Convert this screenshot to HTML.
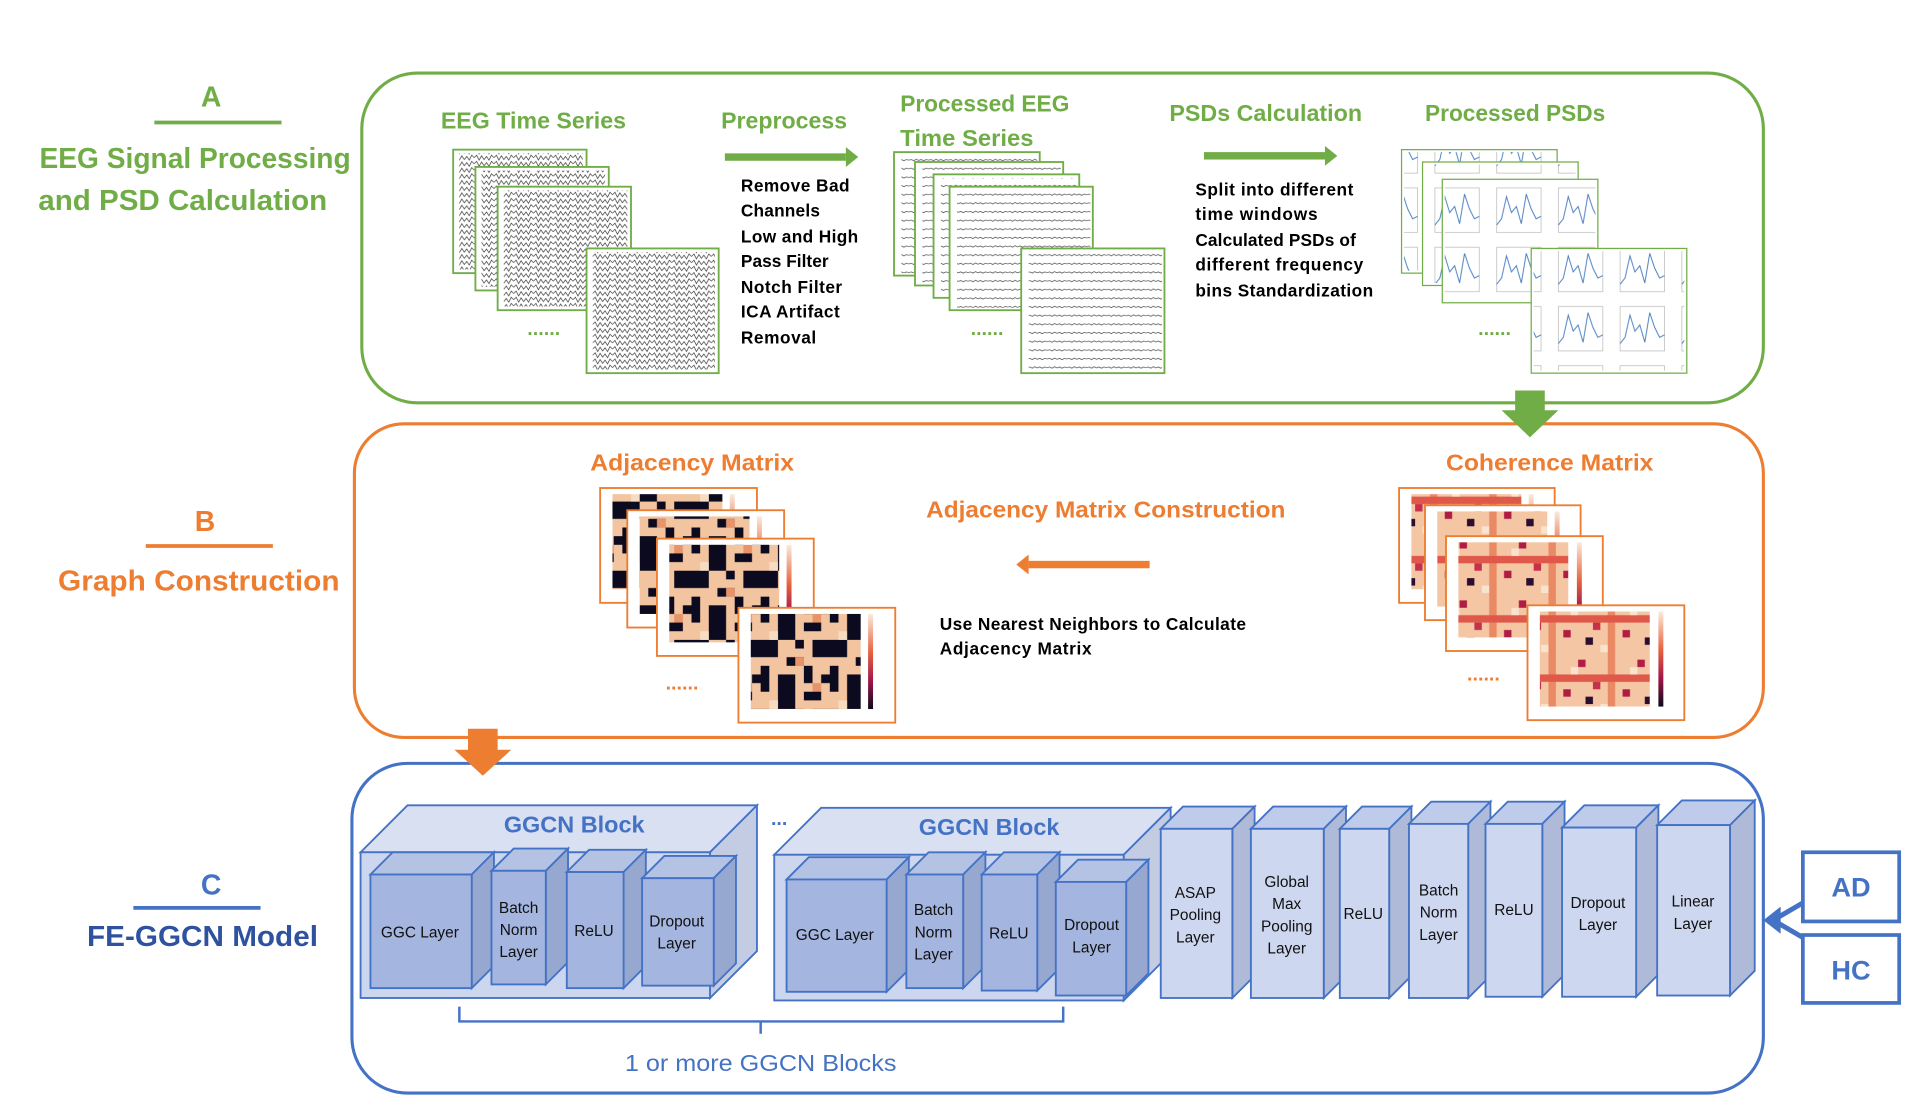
<!DOCTYPE html>
<html><head><meta charset="utf-8"><style>
html,body{margin:0;padding:0;background:#fff;}
svg{display:block;}
text{font-family:"Liberation Sans",sans-serif;}
</style></head><body>
<svg width="1914" height="1118" viewBox="0 0 1550 905" xmlns="http://www.w3.org/2000/svg">
<defs>
<pattern id="eeg" patternUnits="userSpaceOnUse" width="16" height="5">
<path d="M0,2.5 L2,0.5 L4,4.5 L6,1 L8,4 L10,1.5 L12,4.5 L14,0.5 L16,2.5" fill="none" stroke="#444" stroke-width="0.6"/>
</pattern>
<pattern id="peeg" patternUnits="userSpaceOnUse" width="16" height="7">
<path d="M0,3.5 L2,3 L4,4 L6,2.8 L8,3.8 L10,3 L12,4 L14,3 L16,3.5" fill="none" stroke="#555" stroke-width="0.6"/>
</pattern>
<pattern id="psd" patternUnits="userSpaceOnUse" width="50" height="48" x="4" y="3">
<rect x="8" y="5" width="36" height="36" fill="none" stroke="#bbb" stroke-width="0.6"/>
<path d="M8,35 L12,30 L16,12 L20,25 L24,20 L28,34 L32,10 L36,22 L40,30 L44,28" fill="none" stroke="#4a7fc0" stroke-width="0.8"/>
</pattern>
<pattern id="adj" patternUnits="userSpaceOnUse" width="56" height="56">
<rect width="56" height="56" fill="#f3c4a0"/>
<rect x="14" y="0" width="14" height="14" fill="#0b0a1e"/><rect x="35" y="0" width="14" height="7" fill="#0b0a1e"/>
<rect x="0" y="14" width="14" height="14" fill="#0b0a1e"/><rect x="28" y="14" width="7" height="7" fill="#0b0a1e"/>
<rect x="42" y="14" width="14" height="14" fill="#0b0a1e"/><rect x="21" y="28" width="14" height="7" fill="#0b0a1e"/>
<rect x="0" y="35" width="7" height="21" fill="#0b0a1e"/><rect x="35" y="35" width="7" height="14" fill="#0b0a1e"/>
<rect x="14" y="42" width="14" height="14" fill="#0b0a1e"/><rect x="49" y="42" width="7" height="7" fill="#0b0a1e"/>
<rect x="7" y="7" width="7" height="7" fill="#f7dcc4"/><rect x="28" y="28" width="7" height="7" fill="#e8946a"/>
<rect x="42" y="49" width="7" height="7" fill="#e8946a"/>
</pattern>
<pattern id="coh" patternUnits="userSpaceOnUse" width="48" height="48">
<rect width="48" height="48" fill="#f4c6a4"/>
<rect x="6" y="0" width="6" height="48" fill="#ea8a64"/><rect x="0" y="18" width="48" height="6" fill="#e0584a"/>
<rect x="30" y="6" width="6" height="6" fill="#b01d44"/><rect x="18" y="30" width="6" height="6" fill="#b01d44"/>
<rect x="36" y="36" width="6" height="6" fill="#2a0d2f"/><rect x="24" y="12" width="6" height="6" fill="#f8e3cf"/>
<rect x="42" y="24" width="6" height="6" fill="#c7304a"/><rect x="0" y="42" width="6" height="6" fill="#f8e3cf"/>
</pattern>
<linearGradient id="cb" x1="0" y1="0" x2="0" y2="1"><stop offset="0" stop-color="#faebdd"/><stop offset="0.4" stop-color="#e8643f"/><stop offset="0.7" stop-color="#a3174a"/><stop offset="1" stop-color="#0b0a1e"/></linearGradient>
</defs>
<rect width="1550" height="905" fill="#fff"/>
<rect x="293" y="59" width="1135" height="267" rx="45" fill="none" stroke="#70AD47" stroke-width="2.5"/>
<rect x="287" y="343" width="1141" height="254" rx="40" fill="none" stroke="#ED7D31" stroke-width="2.5"/>
<rect x="285" y="618" width="1143" height="267" rx="45" fill="none" stroke="#4472C4" stroke-width="2.5"/>

<g font-weight="bold" text-anchor="middle">
<text x="171" y="86" font-size="23" fill="#70AD47">A</text>
<line x1="125" y1="99" x2="228" y2="99" stroke="#70AD47" stroke-width="3"/>
<text x="158" y="136" font-size="23" fill="#70AD47" textLength="252" lengthAdjust="spacingAndGlyphs">EEG Signal Processing</text>
<text x="148" y="170" font-size="23" fill="#70AD47" textLength="234" lengthAdjust="spacingAndGlyphs">and PSD Calculation</text>
<text x="166" y="430" font-size="23" fill="#ED7D31">B</text>
<line x1="118" y1="442" x2="221" y2="442" stroke="#ED7D31" stroke-width="3"/>
<text x="161" y="478" font-size="23" fill="#ED7D31" textLength="228" lengthAdjust="spacingAndGlyphs">Graph Construction</text>
<text x="171" y="724" font-size="23" fill="#4472C4">C</text>
<line x1="108" y1="735" x2="211" y2="735" stroke="#4472C4" stroke-width="3"/>
<text x="164" y="766" font-size="23" fill="#2F52A0" textLength="187" lengthAdjust="spacingAndGlyphs">FE-GGCN Model</text>
</g>

<g font-weight="bold" font-size="19" fill="#70AD47">
<text x="357" y="104" textLength="150" lengthAdjust="spacingAndGlyphs">EEG Time Series</text>
<text x="584" y="104" textLength="102" lengthAdjust="spacingAndGlyphs">Preprocess</text>
<text x="729" y="90" textLength="137" lengthAdjust="spacingAndGlyphs">Processed EEG</text>
<text x="729" y="118" textLength="108" lengthAdjust="spacingAndGlyphs">Time Series</text>
<text x="947" y="98" textLength="156" lengthAdjust="spacingAndGlyphs">PSDs Calculation</text>
<text x="1154" y="98" textLength="146" lengthAdjust="spacingAndGlyphs">Processed PSDs</text>
</g>
<g fill="#70AD47">
<rect x="587" y="124" width="98" height="6"/><polygon points="685,119 695,127 685,135"/>
<rect x="975" y="123" width="98" height="6"/><polygon points="1073,118 1083,126 1073,134"/>
</g>
<g font-weight="bold" font-size="14" fill="#000" lengthAdjust="spacingAndGlyphs">
<text x="600" y="155" textLength="88">Remove Bad</text>
<text x="600" y="175" textLength="64">Channels</text>
<text x="600" y="196" textLength="95">Low and High</text>
<text x="600" y="216" textLength="71">Pass Filter</text>
<text x="600" y="237" textLength="82">Notch Filter</text>
<text x="600" y="257" textLength="80">ICA Artifact</text>
<text x="600" y="278" textLength="61">Removal</text>
<text x="968" y="158" textLength="128">Split into different</text>
<text x="968" y="178" textLength="99">time windows</text>
<text x="968" y="199" textLength="130">Calculated PSDs of</text>
<text x="968" y="219" textLength="136">different frequency</text>
<text x="968" y="240" textLength="144">bins Standardization</text>
</g>

<!-- EEG stacks -->
<g stroke="#70AD47" stroke-width="1.5">
<rect x="367" y="121" width="108" height="100" fill="#fff"/><rect x="372" y="124" width="100" height="94" fill="url(#eeg)" stroke="none"/>
<rect x="385" y="135" width="108" height="100" fill="#fff"/><rect x="390" y="138" width="100" height="94" fill="url(#eeg)" stroke="none"/>
<rect x="403" y="151" width="108" height="100" fill="#fff"/><rect x="408" y="154" width="100" height="94" fill="url(#eeg)" stroke="none"/>
<rect x="475" y="201" width="107" height="101" fill="#fff"/><rect x="480" y="204" width="99" height="95" fill="url(#eeg)" stroke="none"/>
<rect x="724" y="123" width="118" height="100" fill="#fff"/><rect x="730" y="126" width="110" height="95" fill="url(#peeg)" stroke="none"/>
<rect x="741" y="131" width="120" height="100" fill="#fff"/><rect x="747" y="134" width="112" height="95" fill="url(#peeg)" stroke="none"/>
<rect x="756" y="141" width="118" height="100" fill="#fff"/><rect x="762" y="144" width="110" height="95" fill="url(#peeg)" stroke="none"/>
<rect x="769" y="151" width="116" height="100" fill="#fff"/><rect x="775" y="154" width="108" height="95" fill="url(#peeg)" stroke="none"/>
<rect x="827" y="201" width="116" height="101" fill="#fff"/><rect x="833" y="204" width="108" height="96" fill="url(#peeg)" stroke="none"/>
<rect x="1135" y="121" width="126" height="100" fill="#fff" stroke-width="1"/><rect x="1137" y="123" width="122" height="96" fill="url(#psd)" stroke="none"/>
<rect x="1152" y="131" width="126" height="100" fill="#fff" stroke-width="1"/><rect x="1154" y="133" width="122" height="96" fill="url(#psd)" stroke="none"/>
<rect x="1168" y="145" width="126" height="100" fill="#fff" stroke-width="1"/><rect x="1170" y="147" width="122" height="96" fill="url(#psd)" stroke="none"/>
<rect x="1240" y="201" width="126" height="101" fill="#fff" stroke-width="1"/><rect x="1242" y="203" width="122" height="97" fill="url(#psd)" stroke="none"/>
</g>
<g font-weight="bold" font-size="16" fill="#70AD47">
<text x="427" y="271">......</text><text x="786" y="271">......</text><text x="1197" y="271">......</text>
</g>
<polygon points="1227,316 1251,316 1251,332 1262,332 1239,354 1216,332 1227,332" fill="#70AD47"/>
<polygon points="379,590 403,590 403,607 414,607 391,628 368,607 379,607" fill="#ED7D31"/>

<g font-weight="bold" font-size="19" fill="#ED7D31">
<text x="478" y="381" textLength="165" lengthAdjust="spacingAndGlyphs">Adjacency Matrix</text>
<text x="1171" y="381" textLength="168" lengthAdjust="spacingAndGlyphs">Coherence Matrix</text>
<text x="750" y="419" textLength="291" lengthAdjust="spacingAndGlyphs">Adjacency Matrix Construction</text>
</g>
<rect x="833" y="454" width="98" height="6" fill="#ED7D31"/><polygon points="833,449 823,457 833,465" fill="#ED7D31"/>
<g font-weight="bold" font-size="14" fill="#000" lengthAdjust="spacingAndGlyphs">
<text x="761" y="510" textLength="248">Use Nearest Neighbors to Calculate</text>
<text x="761" y="530" textLength="123">Adjacency Matrix</text>
</g>

<!-- matrices -->
<g stroke="#ED7D31" stroke-width="1.5">
<rect x="486" y="395" width="127" height="93" fill="#fff"/><rect x="496" y="400" width="89" height="77" fill="url(#adj)" stroke="none"/><rect x="591" y="400" width="4" height="77" fill="url(#cb)" stroke="none"/>
<rect x="508" y="413" width="127" height="95" fill="#fff"/><rect x="518" y="418" width="89" height="79" fill="url(#adj)" stroke="none"/><rect x="613" y="418" width="4" height="79" fill="url(#cb)" stroke="none"/>
<rect x="532" y="436" width="127" height="95" fill="#fff"/><rect x="542" y="441" width="89" height="79" fill="url(#adj)" stroke="none"/><rect x="637" y="441" width="4" height="79" fill="url(#cb)" stroke="none"/>
<rect x="598" y="492" width="127" height="93" fill="#fff"/><rect x="608" y="497" width="89" height="77" fill="url(#adj)" stroke="none"/><rect x="703" y="497" width="4" height="77" fill="url(#cb)" stroke="none"/>
<rect x="1133" y="395" width="126" height="93" fill="#fff"/><rect x="1143" y="400" width="89" height="77" fill="url(#coh)" stroke="none"/><rect x="1238" y="400" width="4" height="77" fill="url(#cb)" stroke="none"/>
<rect x="1154" y="409" width="126" height="93" fill="#fff"/><rect x="1164" y="414" width="89" height="77" fill="url(#coh)" stroke="none"/><rect x="1259" y="414" width="4" height="77" fill="url(#cb)" stroke="none"/>
<rect x="1171" y="434" width="127" height="93" fill="#fff"/><rect x="1181" y="439" width="89" height="77" fill="url(#coh)" stroke="none"/><rect x="1277" y="439" width="4" height="77" fill="url(#cb)" stroke="none"/>
<rect x="1237" y="490" width="127" height="93" fill="#fff"/><rect x="1247" y="495" width="89" height="77" fill="url(#coh)" stroke="none"/><rect x="1343" y="495" width="4" height="77" fill="url(#cb)" stroke="none"/>
</g>
<g font-weight="bold" font-size="16" fill="#ED7D31">
<text x="539" y="558">......</text><text x="1188" y="551">......</text>
</g>

<!-- C boxes -->
<g stroke="#4472C4" stroke-width="1.5">
<polygon points="292,690 330,652 613,652 575,690" fill="#D9E0F2"/><polygon points="575,690 613,652 613,770 575,808" fill="#C3CCE2"/><rect x="292" y="690" width="283" height="118" fill="#CCD6EE"/>
<polygon points="300,708 318,690 400,690 382,708" fill="#B4C2E4"/><polygon points="382,708 400,690 400,782 382,800" fill="#97A8D0"/><rect x="300" y="708" width="82" height="92" fill="#A4B5DF"/>
<polygon points="398,705 416,687 460,687 442,705" fill="#B4C2E4"/><polygon points="442,705 460,687 460,779 442,797" fill="#97A8D0"/><rect x="398" y="705" width="44" height="92" fill="#A4B5DF"/>
<polygon points="459,706 477,688 523,688 505,706" fill="#B4C2E4"/><polygon points="505,706 523,688 523,782 505,800" fill="#97A8D0"/><rect x="459" y="706" width="46" height="94" fill="#A4B5DF"/>
<polygon points="520,711 538,693 596,693 578,711" fill="#B4C2E4"/><polygon points="578,711 596,693 596,780 578,798" fill="#97A8D0"/><rect x="520" y="711" width="58" height="87" fill="#A4B5DF"/>
<polygon points="627,692 665,654 948,654 910,692" fill="#D9E0F2"/><polygon points="910,692 948,654 948,772 910,810" fill="#C3CCE2"/><rect x="627" y="692" width="283" height="118" fill="#CCD6EE"/>
<polygon points="637,712 655,694 736,694 718,712" fill="#B4C2E4"/><polygon points="718,712 736,694 736,785 718,803" fill="#97A8D0"/><rect x="637" y="712" width="81" height="91" fill="#A4B5DF"/>
<polygon points="734,708 752,690 798,690 780,708" fill="#B4C2E4"/><polygon points="780,708 798,690 798,782 780,800" fill="#97A8D0"/><rect x="734" y="708" width="46" height="92" fill="#A4B5DF"/>
<polygon points="795,708 813,690 858,690 840,708" fill="#B4C2E4"/><polygon points="840,708 858,690 858,784 840,802" fill="#97A8D0"/><rect x="795" y="708" width="45" height="94" fill="#A4B5DF"/>
<polygon points="855,714 873,696 930,696 912,714" fill="#B4C2E4"/><polygon points="912,714 930,696 930,788 912,806" fill="#97A8D0"/><rect x="855" y="714" width="57" height="92" fill="#A4B5DF"/>
<polygon points="940,671 958,653 1016,653 998,671" fill="#BFCBEA"/><polygon points="998,671 1016,653 1016,790 998,808" fill="#AEBAD8"/><rect x="940" y="671" width="58" height="137" fill="#CDD7EF"/>
<polygon points="1013,671 1031,653 1090,653 1072,671" fill="#BFCBEA"/><polygon points="1072,671 1090,653 1090,790 1072,808" fill="#AEBAD8"/><rect x="1013" y="671" width="59" height="137" fill="#CDD7EF"/>
<polygon points="1085,671 1103,653 1143,653 1125,671" fill="#BFCBEA"/><polygon points="1125,671 1143,653 1143,790 1125,808" fill="#AEBAD8"/><rect x="1085" y="671" width="40" height="137" fill="#CDD7EF"/>
<polygon points="1141,667 1159,649 1207,649 1189,667" fill="#BFCBEA"/><polygon points="1189,667 1207,649 1207,790 1189,808" fill="#AEBAD8"/><rect x="1141" y="667" width="48" height="141" fill="#CDD7EF"/>
<polygon points="1203,667 1221,649 1267,649 1249,667" fill="#BFCBEA"/><polygon points="1249,667 1267,649 1267,789 1249,807" fill="#AEBAD8"/><rect x="1203" y="667" width="46" height="140" fill="#CDD7EF"/>
<polygon points="1265,670 1283,652 1343,652 1325,670" fill="#BFCBEA"/><polygon points="1325,670 1343,652 1343,789 1325,807" fill="#AEBAD8"/><rect x="1265" y="670" width="60" height="137" fill="#CDD7EF"/>
<polygon points="1342,668 1362,648 1421,648 1401,668" fill="#BFCBEA"/><polygon points="1401,668 1421,648 1421,786 1401,806" fill="#AEBAD8"/><rect x="1342" y="668" width="59" height="138" fill="#CDD7EF"/>
</g>
<g font-weight="bold" font-size="19" fill="#4472C4" text-anchor="middle">
<text x="465" y="674">GGCN  Block</text>
<text x="801" y="676">GGCN  Block</text>
<text x="631" y="668" font-size="16">...</text>
</g>
<g font-size="12.5" fill="#111" text-anchor="middle">
<text x="340" y="759">GGC Layer</text>
<text x="420" y="739">Batch</text><text x="420" y="757">Norm</text><text x="420" y="775">Layer</text>
<text x="481" y="758">ReLU</text>
<text x="548" y="750">Dropout</text><text x="548" y="768">Layer</text>
<text x="676" y="761">GGC Layer</text>
<text x="756" y="741">Batch</text><text x="756" y="759">Norm</text><text x="756" y="777">Layer</text>
<text x="817" y="760">ReLU</text>
<text x="884" y="753">Dropout</text><text x="884" y="771">Layer</text>
<text x="968" y="727">ASAP</text><text x="968" y="745">Pooling</text><text x="968" y="763">Layer</text>
<text x="1042" y="718">Global</text><text x="1042" y="736">Max</text><text x="1042" y="754">Pooling</text><text x="1042" y="772">Layer</text>
<text x="1104" y="744">ReLU</text>
<text x="1165" y="725">Batch</text><text x="1165" y="743">Norm</text><text x="1165" y="761">Layer</text>
<text x="1226" y="741">ReLU</text>
<text x="1294" y="735">Dropout</text><text x="1294" y="753">Layer</text>
<text x="1371" y="734">Linear</text><text x="1371" y="752">Layer</text>
</g>
<path d="M372,815 V827 H616 V837 M616,827 H861 V815" fill="none" stroke="#4472C4" stroke-width="2"/>
<text x="616" y="867" font-size="19" fill="#4472C4" text-anchor="middle" textLength="220" lengthAdjust="spacingAndGlyphs">1 or more GGCN  Blocks</text>
<rect x="1460" y="690" width="78" height="56" fill="#fff" stroke="#4472C4" stroke-width="3"/>
<rect x="1460" y="757" width="78" height="55" fill="#fff" stroke="#4472C4" stroke-width="3"/>
<g font-weight="bold" font-size="22" fill="#4472C4" text-anchor="middle">
<text x="1499" y="726">AD</text><text x="1499" y="793">HC</text>
</g>
<path d="M1460,731 L1436,745 L1460,759" fill="none" stroke="#4472C4" stroke-width="4"/>
<polygon points="1428,745 1442,734 1442,756" fill="#4472C4"/>
</svg>
</body></html>
